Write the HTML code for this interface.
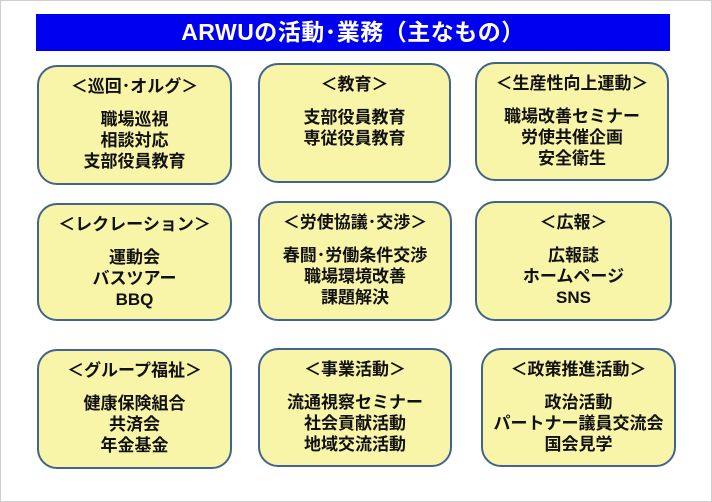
<!DOCTYPE html>
<html><head><meta charset="utf-8"><style>
body{margin:0;width:712px;height:502px;background:#fff;position:relative;overflow:hidden;font-family:"Liberation Sans","Noto Sans CJK JP",sans-serif;}
.frame{position:absolute;left:0;top:0;width:710px;height:500px;border:1px solid #cfcfcf;}
.title{position:absolute;left:36px;top:14px;width:634px;height:37px;background:#0000f0;color:#fff;font-weight:bold;font-size:23px;line-height:37px;text-align:center;letter-spacing:0.5px;}
.b{position:absolute;box-sizing:border-box;border:2px solid #41648c;border-radius:20px;background:#f8f4a8;text-align:center;font-weight:bold;font-size:17px;color:#111;}
.b .h{margin-top:9px;line-height:22px;}
.b .t{margin-top:11px;line-height:21px;}
</style></head><body>
<div class="frame"></div>
<div class="title">ARWUの活動･業務（主なもの）</div>

<div class="b" style="left:37px;top:65px;width:195px;height:120px"><div class="h">＜巡回･オルグ＞</div><div class="t">職場巡視<br>相談対応<br>支部役員教育</div></div>
<div class="b" style="left:258px;top:63px;width:193px;height:120px"><div class="h">＜教育＞</div><div class="t">支部役員教育<br>専従役員教育</div></div>
<div class="b" style="left:475px;top:62px;width:194px;height:119px"><div class="h">＜生産性向上運動＞</div><div class="t">職場改善セミナー<br>労使共催企画<br>安全衛生</div></div>

<div class="b" style="left:37px;top:203px;width:195px;height:118px"><div class="h">＜レクレーション＞</div><div class="t">運動会<br>バスツアー<br>BBQ</div></div>
<div class="b" style="left:258px;top:201px;width:194px;height:120px"><div class="h">＜労使協議･交渉＞</div><div class="t">春闘･労働条件交渉<br>職場環境改善<br>課題解決</div></div>
<div class="b" style="left:475px;top:201px;width:197px;height:120px"><div class="h">＜広報＞</div><div class="t">広報誌<br>ホームページ<br>SNS</div></div>

<div class="b" style="left:37px;top:349px;width:195px;height:120px"><div class="h">＜グループ福祉＞</div><div class="t">健康保険組合<br>共済会<br>年金基金</div></div>
<div class="b" style="left:258px;top:348px;width:194px;height:119px"><div class="h">＜事業活動＞</div><div class="t">流通視察セミナー<br>社会貢献活動<br>地域交流活動</div></div>
<div class="b" style="left:481px;top:348px;width:195px;height:119px"><div class="h">＜政策推進活動＞</div><div class="t">政治活動<br>パートナー議員交流会<br>国会見学</div></div>
</body></html>
